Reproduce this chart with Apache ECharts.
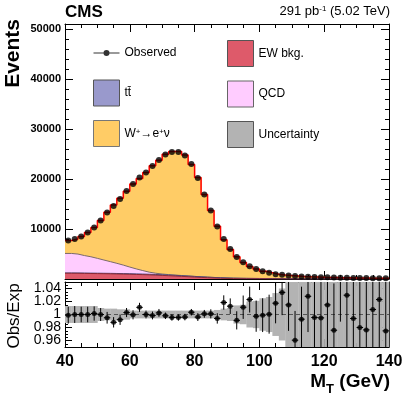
<!DOCTYPE html>
<html><head><meta charset="utf-8">
<script src="https://cdn.jsdelivr.net/npm/echarts@6/dist/echarts.min.js"></script>
<style>html,body{margin:0;padding:0;background:#fff}#c{width:407px;height:395px}</style>
</head><body><div id="c"></div>
<script>
// ---- data (bin centres in GeV, 2 GeV bins) ----
const centers = [41,43,45,47,49,51,53,55,57,59,61,63,65,67,69,71,73,75,77,79,81,83,85,87,89,91,93,95,97,99,101,103,105,107,109,111,113,115,117,119,121,123,125,127,129,131,133,135,137,139];
const observed = [7700,8000,8500,9300,10300,11700,13300,14600,16000,17600,
  19000,20300,21300,22600,23800,24900,25400,25400,24700,23000,
  20200,16900,13700,10500,8000,6000,4400,3350,2550,2000,
  1540,1250,960,830,700,590,520,460,410,360,
  330,290,260,250,220,200,180,170,160,140];
const ewBkg = [1150,1140,1120,1100,1080,1060,1040,1010,980,950,
  910,870,830,780,720,660,600,530,460,390,
  320,260,200,150,110,80,60,47,38,32,
  27,23,20,18,16,14,13,12,11,10,
  9,8,8,7,7,6,6,5,5,5];
const ttbar = [60,65,70,75,80,85,90,95,100,105,
  110,115,120,125,130,130,130,130,125,120,
  115,110,105,100,95,90,85,80,75,70,
  65,60,55,50,47,44,41,38,35,32,
  30,28,26,24,22,20,18,16,15,14];
const qcd = [3900,3780,3500,3270,2970,2650,2340,2030,1700,1330,
  1000,700,420,250,150,90,60,40,25,15,
  10,8,6,5,4,3,3,2,2,2,
  1,1,1,1,1,1,1,1,1,1,
  1,1,1,1,1,1,1,1,1,1];
const wSignal = [2598,3015,3810,4855,6155,7905,9897,11642,13349,15162,
  16990,18394,19930,21479,22741,24070,24725,24815,24189,22395,
  19836,16505,13375,10308,7646,5751,4292,3184,2378,1901,
  1449,1165,868,734,626,555,469,396,365,319,
  285,260,209,211,191,177,159,147,135,124];
const ratio = [0.999,1.000,1.000,1.000,1.0015,1.000,0.995,0.988,0.992,1.003,
  0.9995,1.011,1.000,0.9985,1.0025,0.998,0.9955,0.9955,0.996,1.0035,
  0.996,1.001,1.001,0.994,1.0185,1.0128,0.991,1.0112,1.023,0.9974,
  0.999,1.0005,1.0174,1.034,1.0148,0.9605,0.9928,1.028,0.9954,0.9948,
  1.0148,0.9758,1.065,1.0297,0.9938,0.98,0.9763,1.0077,1.023,0.9748];
const ratioErr = [0.013,0.013,0.012,0.012,0.011,0.010,0.009,0.008,0.008,0.007,
  0.007,0.007,0.006,0.006,0.006,0.005,0.005,0.005,0.005,0.005,
  0.006,0.006,0.007,0.008,0.011,0.012,0.014,0.018,0.020,0.024,
  0.026,0.030,0.031,0.035,0.040,0.045,0.050,0.055,0.060,0.065,
  0.068,0.072,0.076,0.080,0.084,0.088,0.092,0.096,0.100,0.105];
const mcUnc = [0.013,0.013,0.013,0.013,0.013,0.010,0.009,0.009,0.008,0.008,
  0.006,0.006,0.006,0.006,0.006,0.006,0.006,0.006,0.006,0.006,
  0.006,0.006,0.006,0.007,0.009,0.010,0.014,0.015,0.020,0.021,
  0.025,0.027,0.033,0.040,0.060,0.070,0.080,0.090,0.100,0.100,
  0.100,0.100,0.100,0.100,0.100,0.100,0.100,0.100,0.100,0.100];
const xTickStep = 20;
const yTickStep = 10000;
const ratioLabelsA = [0.96,1,1.04];
const ratioLabelsB = [0.98,1.02];
const ratioTicks = [0.96,0.98,1,1.02,1.04];

// ---- helpers ----
const FONT = "'Liberation Sans', Arial, Helvetica, sans-serif";
const half = 1; // half bin width
function stepData(vals){
  const d = centers.map((c,i)=>[c-half, vals[i]]);
  d.push([centers[centers.length-1]+half, vals[vals.length-1]]);
  return d;
}
// cumulative stack (EW at the bottom, then ttbar, QCD, W)
const cumEW = ewBkg.slice();
const cumTT = cumEW.map((v,i)=>v+ttbar[i]);
const cumQCD = cumTT.map((v,i)=>v+qcd[i]);
const cumW = cumQCD.map((v,i)=>v+wSignal[i]);

const chart = echarts.init(document.getElementById('c'), null, {renderer:'canvas'});

function xAx(grid, pos, labels){
  return {type:'value', gridIndex:grid, position:pos, min:40, max:140, interval:xTickStep,
    axisLine:{show:true, onZero:false, lineStyle:{color:'#000', width:1}},
    axisTick:{show:true, inside:true, length:8, lineStyle:{color:'#000'}},
    minorTick:{show:true, splitNumber:4, length:4, lineStyle:{color:'#000'}},
    splitLine:{show:false},
    axisLabel:{show:labels, color:'#000', fontFamily:FONT, fontWeight:'bold', fontSize:16, margin:7}};
}
function yAx(grid, pos, o){
  return Object.assign({type:'value', gridIndex:grid, position:pos,
    axisLine:{show:true, onZero:false, lineStyle:{color:'#000', width:1}},
    splitLine:{show:false}}, o);
}
function area(name, cum, color, line, z){
  return {name, type:'line', xAxisIndex:0, yAxisIndex:0, step:'end', symbol:'none',
    data: stepData(cum), lineStyle:{color:line, width:1}, areaStyle:{color, opacity:1, origin:'start'},
    itemStyle:{color}, emphasis:{disabled:true}, silent:true, z};
}
const ratioLabel = vals => ({show:true, customValues:vals, color:'#000', fontFamily:FONT, fontSize:14, margin:4,
  hideOverlap:false, showMinLabel:true, showMaxLabel:true, formatter:v=>String(+(+v).toFixed(2))});

const obsIcon = 'path://M0,0L26,0L26,0.01Z M0,26L26,26L26,25.99Z M0,12.5L26,12.5L26,13.5L0,13.5Z M16,13A3,3,0,1,1,10,13A3,3,0,1,1,16,13Z';

function clampR(v){ return Math.min(1.05, Math.max(0.95, v)); }

const option = {
  animation:false,
  textStyle:{fontFamily:FONT},
  grid:[
    {left:65, top:24, width:324, height:255, containLabel:false},
    {left:65, top:282, width:324, height:65, containLabel:false}
  ],
  xAxis:[
    xAx(0,'bottom',false), xAx(0,'top',false),
    xAx(1,'bottom',true), xAx(1,'top',false)
  ],
  yAxis:[
    yAx(0,'left',{min:0,max:51000,interval:yTickStep,
      axisTick:{show:true,inside:true,length:8,lineStyle:{color:'#000'}},
      axisLabel:{show:true,color:'#000',fontFamily:FONT,fontWeight:'bold',fontSize:11,margin:4,
        formatter:v=> (v>0 && v%yTickStep===0) ? String(v) : ''}}),
    yAx(0,'left',{min:0,max:51000,interval:yTickStep/5, axisLine:{show:false},
      axisTick:{show:true,inside:true,length:4,lineStyle:{color:'#000'}}, axisLabel:{show:false}}),
    yAx(0,'right',{min:0,max:51000,interval:yTickStep,
      axisTick:{show:true,inside:true,length:8,lineStyle:{color:'#000'}}, axisLabel:{show:false}}),
    yAx(0,'right',{min:0,max:51000,interval:yTickStep/5, axisLine:{show:false},
      axisTick:{show:true,inside:true,length:4,lineStyle:{color:'#000'}}, axisLabel:{show:false}}),
    yAx(1,'left',{min:0.95,max:1.05,
      axisTick:{show:true,inside:true,length:7,customValues:ratioTicks,lineStyle:{color:'#000'}},
      axisLabel:ratioLabel(ratioLabelsA)}),
    yAx(1,'left',{min:0.95,max:1.05,interval:0.005, axisLine:{show:false},
      axisTick:{show:true,inside:true,length:3,lineStyle:{color:'#000'}}, axisLabel:ratioLabel(ratioLabelsB)}),
    yAx(1,'right',{min:0.95,max:1.05,
      axisTick:{show:true,inside:true,length:7,customValues:ratioTicks,lineStyle:{color:'#000'}}, axisLabel:{show:false}}),
    yAx(1,'right',{min:0.95,max:1.05,interval:0.005, axisLine:{show:false},
      axisTick:{show:true,inside:true,length:3,lineStyle:{color:'#000'}}, axisLabel:{show:false}})
  ],
  legend:[
    {left:88, top:35, orient:'vertical', itemWidth:26, itemHeight:26, itemGap:13.5, selectedMode:false,
     textStyle:{fontFamily:FONT, fontSize:12, color:'#000',
       rich:{s:{fontSize:8, verticalAlign:'top', lineHeight:10, fontFamily:FONT}, n:{fontSize:12, fontFamily:FONT}}},
     formatter:n=> n==='W+\u2192e+\u03bd' ? '{n|W}{s|+}{n|\u2192e}{s|+}{n|\u03bd}' : n,
     data:[
       {name:'Observed', icon:obsIcon, itemStyle:{color:'#000', borderWidth:0}},
       {name:'tt\u0304', icon:'rect', itemStyle:{color:'#9999cc', borderColor:'#555', borderWidth:1}},
       {name:'W+\u2192e+\u03bd', icon:'rect', itemStyle:{color:'#ffcc66', borderColor:'#777', borderWidth:1}}
     ]},
    {left:222, top:35, orient:'vertical', itemWidth:26, itemHeight:26, itemGap:13.5, selectedMode:false,
     textStyle:{fontFamily:FONT, fontSize:12, color:'#000'},
     data:[
       {name:'EW bkg.', icon:'rect', itemStyle:{color:'#de5a6a', borderColor:'#555', borderWidth:1}},
       {name:'QCD', icon:'rect', itemStyle:{color:'#ffccff', borderColor:'#666', borderWidth:1}},
       {name:'Uncertainty', icon:'rect', itemStyle:{color:'#b3b3b3', borderColor:'#555', borderWidth:1}}
     ]}
  ],
  graphic:[
    {type:'text', left:65, top:4, style:{text:'CMS', font:'bold 17px '+FONT, fill:'#000'}},
    {type:'text', right:17, top:5, style:{text:'291 pb{s|-1} (5.02 TeV)', font:'13px '+FONT, fill:'#000',
      rich:{s:{fontSize:8, verticalAlign:'top', lineHeight:10, fontFamily:FONT}}}},
    {type:'text', x:13, y:19, rotation:Math.PI/2, style:{text:'Events', font:'bold 21px '+FONT, fill:'#000', align:'right', verticalAlign:'middle'}},
    {type:'text', x:14, y:316, rotation:Math.PI/2, style:{text:'Obs/Exp', font:'17px '+FONT, fill:'#000', align:'center', verticalAlign:'middle'}},
    {type:'text', right:17, top:372, style:{text:'M{sub|T} (GeV)', font:'bold 19px '+FONT, fill:'#000',
      rich:{sub:{fontSize:13, fontWeight:'bold', fontFamily:FONT, verticalAlign:'bottom', lineHeight:28}}}}
  ],
  series:[
    area('W+\u2192e+\u03bd', cumW, '#ffcc66', '#ffcc66', 1),
    area('QCD', cumQCD, '#ffccff', '#7a6a6a', 2),
    area('tt\u0304', cumTT, '#9999cc', '#4b4b7a', 3),
    area('EW bkg.', cumEW, '#de5a6a', '#8a2a36', 4),
    {name:'Total', type:'line', xAxisIndex:0, yAxisIndex:0, step:'end', symbol:'none', silent:true,
     data:stepData(cumW), lineStyle:{color:'#ff0000', width:1.5}, z:5},
    {name:'Observed', type:'scatter', xAxisIndex:0, yAxisIndex:0, symbol:'circle', symbolSize:6,
     data:centers.map((c,i)=>[c, observed[i]]), itemStyle:{color:'#000'}, silent:true, z:6},
    // ratio panel
    {name:'Uncertainty', type:'custom', xAxisIndex:2, yAxisIndex:4, silent:true, z:1,
     itemStyle:{color:'#b3b3b3'},
     data:centers.map((c,i)=>[c, mcUnc[i]]), encode:{x:0, y:1},
     renderItem:(params, api)=>{
       const x = api.value(0), u = api.value(1);
       const a = api.coord([x-half, clampR(1+u)]), b = api.coord([x+half, clampR(1-u)]);
       return {type:'rect', shape:{x:a[0], y:a[1], width:b[0]-a[0]+0.3, height:b[1]-a[1]}, style:{fill:'#b3b3b3'}};
     }},
    {name:'_one', type:'line', xAxisIndex:2, yAxisIndex:4, symbol:'none', silent:true,
     data:[[40,1],[140,1]], lineStyle:{color:'#555', width:1, type:[4,3]}, z:2},
    {name:'_err', type:'custom', xAxisIndex:2, yAxisIndex:4, silent:true, z:3,
     data:centers.map((c,i)=>[c, ratio[i], ratioErr[i]]),
     encode:{x:0, y:1},
     renderItem:(params, api)=>{
       const x = api.value(0), y = api.value(1), e = api.value(2);
       const lo = Math.max(y-e, 0.95), hi = Math.min(y+e, 1.05);
       const kids = [];
       if (hi > lo) {
         const p1 = api.coord([x, lo]), p2 = api.coord([x, hi]);
         kids.push({type:'line', shape:{x1:p1[0], y1:p1[1], x2:p2[0], y2:p2[1]}, style:{stroke:'#000', lineWidth:1}});
       }
       if (y >= 0.95 && y <= 1.05) {
         const a = api.coord([x-half, y]), b = api.coord([x+half, y]);
         kids.push({type:'line', shape:{x1:a[0], y1:a[1], x2:b[0], y2:b[1]}, style:{stroke:'#000', lineWidth:1}});
       }
       return {type:'group', children:kids};
     }},
    {name:'_ratio', type:'scatter', xAxisIndex:2, yAxisIndex:4, symbol:'circle', symbolSize:5, silent:true,
     data:centers.map((c,i)=>[c, ratio[i]]), itemStyle:{color:'#000'}, z:4}
  ]
};
chart.setOption(option);
</script>
</body></html>
